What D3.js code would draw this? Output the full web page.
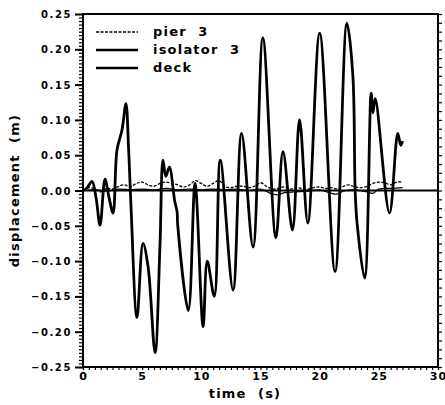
<!DOCTYPE html>
<html>
<head>
<meta charset="utf-8">
<script src="https://cdn.jsdelivr.net/npm/d3@7"></script>
<style>
    body { margin: 0; background: #fff; }
    svg { display: block; }
    text { font-family: 'DejaVu Sans', sans-serif; font-weight: bold; fill: #000; }
</style>
</head>
<body>
<svg id="chart" width="445" height="405"></svg>
<script>
// isolator 3 (big swings)
const isoTime = [0, 0.35, 0.76, 1.1, 1.44, 1.86, 2.2, 2.54, 2.87, 3.3, 3.63, 3.85, 4.05, 4.56, 5.07, 5.5, 6.09, 6.5, 6.76, 7.0, 7.3, 7.75, 7.95, 8.0, 8.9, 9.47, 10.15, 10.5, 11.1, 11.6, 12.68, 13.4, 14.37, 15.2, 16.3, 16.9, 17.7, 18.3, 19.0, 20.0, 21.3, 22.3, 22.8, 23.0, 23.16, 23.8, 24.35, 24.5, 24.7, 25.9, 26.6, 26.85, 27.0]
const isoValue = [0, 0.004, 0.013, -0.01, -0.049, 0.016, -0.01, -0.032, 0.057, 0.086, 0.123, 0.06, -0.02, -0.18, -0.075, -0.108, -0.23, -0.08, 0.043, 0.02, 0.033, -0.015, -0.03, -0.048, -0.17, 0.01, -0.193, -0.1, -0.15, 0.043, -0.141, 0.081, -0.08, 0.216, -0.067, 0.055, -0.056, 0.1, -0.046, 0.223, -0.115, 0.237, 0.164, 0.0, -0.046, -0.124, 0.138, 0.11, 0.13, -0.032, 0.081, 0.064, 0.07]

// pier 3 (small, dashed)
const pierTime = [0, 0.5, 1, 1.5, 2, 2.5, 3, 3.5, 4, 4.5, 5, 5.5, 6, 6.5, 7, 7.5, 8, 8.5, 9, 9.5, 10, 10.5, 11, 11.5, 12, 12.5, 13, 13.5, 14, 14.5, 15, 15.5, 16, 16.5, 17, 17.5, 18, 18.5, 19, 19.5, 20, 20.5, 21, 21.5, 22, 22.5, 23, 23.5, 24, 24.5, 25, 25.5, 26, 26.5, 27]
const pierValue = [0, 0.004, 0.002, -0.002, 0.003, 0.002, 0.006, 0.008, 0.005, 0.01, 0.012, 0.008, 0.006, 0.01, 0.012, 0.01, 0.008, 0.005, 0.008, 0.014, 0.01, 0.006, 0.01, 0.014, 0.006, 0.004, 0.006, 0.006, 0.004, 0.006, 0.011, 0.006, 0.002, 0.003, 0.005, 0.002, 0.004, 0.003, 0.002, 0.004, 0.005, 0.003, 0.004, 0.002, 0.006, 0.008, 0.005, 0.004, 0.006, 0.01, 0.012, 0.011, 0.008, 0.012, 0.012]

// deck (near zero)
const deckTime = [0, 1, 2, 3, 4, 5, 6, 7, 8, 9, 10, 11, 12, 13, 14, 15, 16, 16.5, 17, 18, 19, 20, 21, 21.5, 22, 23, 24, 24.5, 25, 26, 27]
const deckValue = [0, 0.001, -0.001, 0.002, 0.001, 0.002, 0.001, 0.003, 0.001, 0.002, 0.001, 0.002, 0.001, 0.002, 0, 0.002, -0.005, -0.006, -0.003, -0.002, -0.001, 0.001, -0.004, -0.005, -0.001, 0.001, -0.002, -0.004, 0.002, 0.003, 0.004]

const xTicks = [0, 5, 10, 15, 20, 25, 30]
const yTicks = [-0.25, -0.20, -0.15, -0.10, -0.05, 0.00, 0.05, 0.10, 0.15, 0.20, 0.25]
const legendNames = ['pier  3', 'isolator  3', 'deck']

const MARGIN = { left: 83, right: 7, top: 14, bottom: 38 }
const W = 445, H = 405

const svg = d3.select('#chart')

const x = d3.scaleLinear().domain([0, 30]).range([MARGIN.left, W - MARGIN.right])
const y = d3.scaleLinear().domain([-0.25, 0.25]).range([H - MARGIN.bottom, MARGIN.top])

const line = d3.line()
    .x(d => x(d[0]))
    .y(d => y(d[1]))
    .curve(d3.curveCatmullRom.alpha(0.5))

const zip = (a, b) => a.map((t, i) => [t, b[i]])

// minor ticks
const leftMinor = d3.range(-0.25, 0.2501, 0.005)
const rightMinor = d3.range(-0.25, 0.2501, 0.0125)
const bottomMinor = d3.range(0, 30.01, 0.5)

svg.append('g')
    .attr('transform', `translate(${MARGIN.left},0)`)
    .call(d3.axisLeft(y).tickValues(leftMinor).tickSize(4).tickFormat(''))
    .call(g => g.select('.domain').remove())
    .selectAll('line').attr('stroke-width', 1.2)

svg.append('g')
    .attr('transform', `translate(${W - MARGIN.right},0)`)
    .call(d3.axisRight(y).tickValues(rightMinor).tickSize(4).tickFormat(''))
    .call(g => g.select('.domain').remove())
    .selectAll('line').attr('stroke-width', 1.2)

svg.append('g')
    .attr('transform', `translate(0,${H - MARGIN.bottom})`)
    .call(d3.axisBottom(x).tickValues(bottomMinor).tickSize(3).tickFormat(''))
    .call(g => g.select('.domain').remove())
    .selectAll('line').attr('stroke-width', 1.2)

// major ticks + labels
const yAxis = svg.append('g')
    .attr('transform', `translate(${MARGIN.left},0)`)
    .call(d3.axisLeft(y).tickValues(yTicks).tickSize(8).tickPadding(3)
        .tickFormat(d => d3.format('.2f')(d).replace('-', '\u2212')))
yAxis.select('.domain').remove()
yAxis.selectAll('line').attr('stroke-width', 2)
yAxis.selectAll('text')
    .attr('font-size', 10)
    .attr('font-family', "'DejaVu Sans', sans-serif")
    .attr('font-weight', 'bold')
    .attr('letter-spacing', '1.6px')
    .attr('dy', '0.35em')

const xAxis = svg.append('g')
    .attr('transform', `translate(0,${H - MARGIN.bottom})`)
    .call(d3.axisBottom(x).tickValues(xTicks).tickSize(0).tickPadding(5).tickFormat(d3.format('d')))
xAxis.select('.domain').remove()
xAxis.selectAll('text')
    .attr('font-size', 11)
    .attr('font-family', "'DejaVu Sans', sans-serif")
    .attr('font-weight', 'bold')
    .attr('letter-spacing', '1px')

// frame
svg.append('rect')
    .attr('x', MARGIN.left)
    .attr('y', MARGIN.top)
    .attr('width', W - MARGIN.right - MARGIN.left)
    .attr('height', H - MARGIN.bottom - MARGIN.top)
    .attr('fill', 'none')
    .attr('stroke', '#000')
    .attr('stroke-width', 2)

// zero line
svg.append('line')
    .attr('x1', x(0)).attr('x2', x(30))
    .attr('y1', y(0)).attr('y2', y(0))
    .attr('stroke', '#000')
    .attr('stroke-width', 2)

// series
svg.append('path')
    .datum(zip(deckTime, deckValue))
    .attr('d', line)
    .attr('fill', 'none')
    .attr('stroke', '#000')
    .attr('stroke-width', 1.2)

svg.append('path')
    .datum(zip(pierTime, pierValue))
    .attr('d', line)
    .attr('fill', 'none')
    .attr('stroke', '#000')
    .attr('stroke-width', 1.3)
    .attr('stroke-dasharray', '3,1.5')

svg.append('path')
    .datum(zip(isoTime, isoValue))
    .attr('d', line)
    .attr('fill', 'none')
    .attr('stroke', '#000')
    .attr('stroke-width', 2.8)
    .attr('stroke-linejoin', 'round')

// legend
const legend = svg.append('g')
legendNames.forEach((name, i) => {
    const ly = 32 + i * 18
    legend.append('line')
        .attr('x1', 96).attr('x2', 138)
        .attr('y1', ly).attr('y2', ly)
        .attr('stroke', '#000')
        .attr('stroke-width', i === 0 ? 1.5 : 2.6)
        .attr('stroke-dasharray', i === 0 ? '3,1.5' : null)
    legend.append('text')
        .attr('x', 153)
        .attr('y', ly + 4)
        .attr('font-size', 13)
        .attr('letter-spacing', '1.2px')
        .style('white-space', 'pre')
        .text(name)
})

// axis titles
svg.append('text')
    .attr('x', 245)
    .attr('y', 398)
    .attr('text-anchor', 'middle')
    .attr('font-size', 13)
    .attr('letter-spacing', '1.2px')
    .style('white-space', 'pre')
    .text('time  (s)')

svg.append('text')
    .attr('transform', `translate(19,${y(0)}) rotate(-90)`)
    .attr('text-anchor', 'middle')
    .attr('font-size', 13)
    .attr('letter-spacing', '1.2px')
    .style('white-space', 'pre')
    .text('displacement  (m)')
</script>
</body>
</html>
